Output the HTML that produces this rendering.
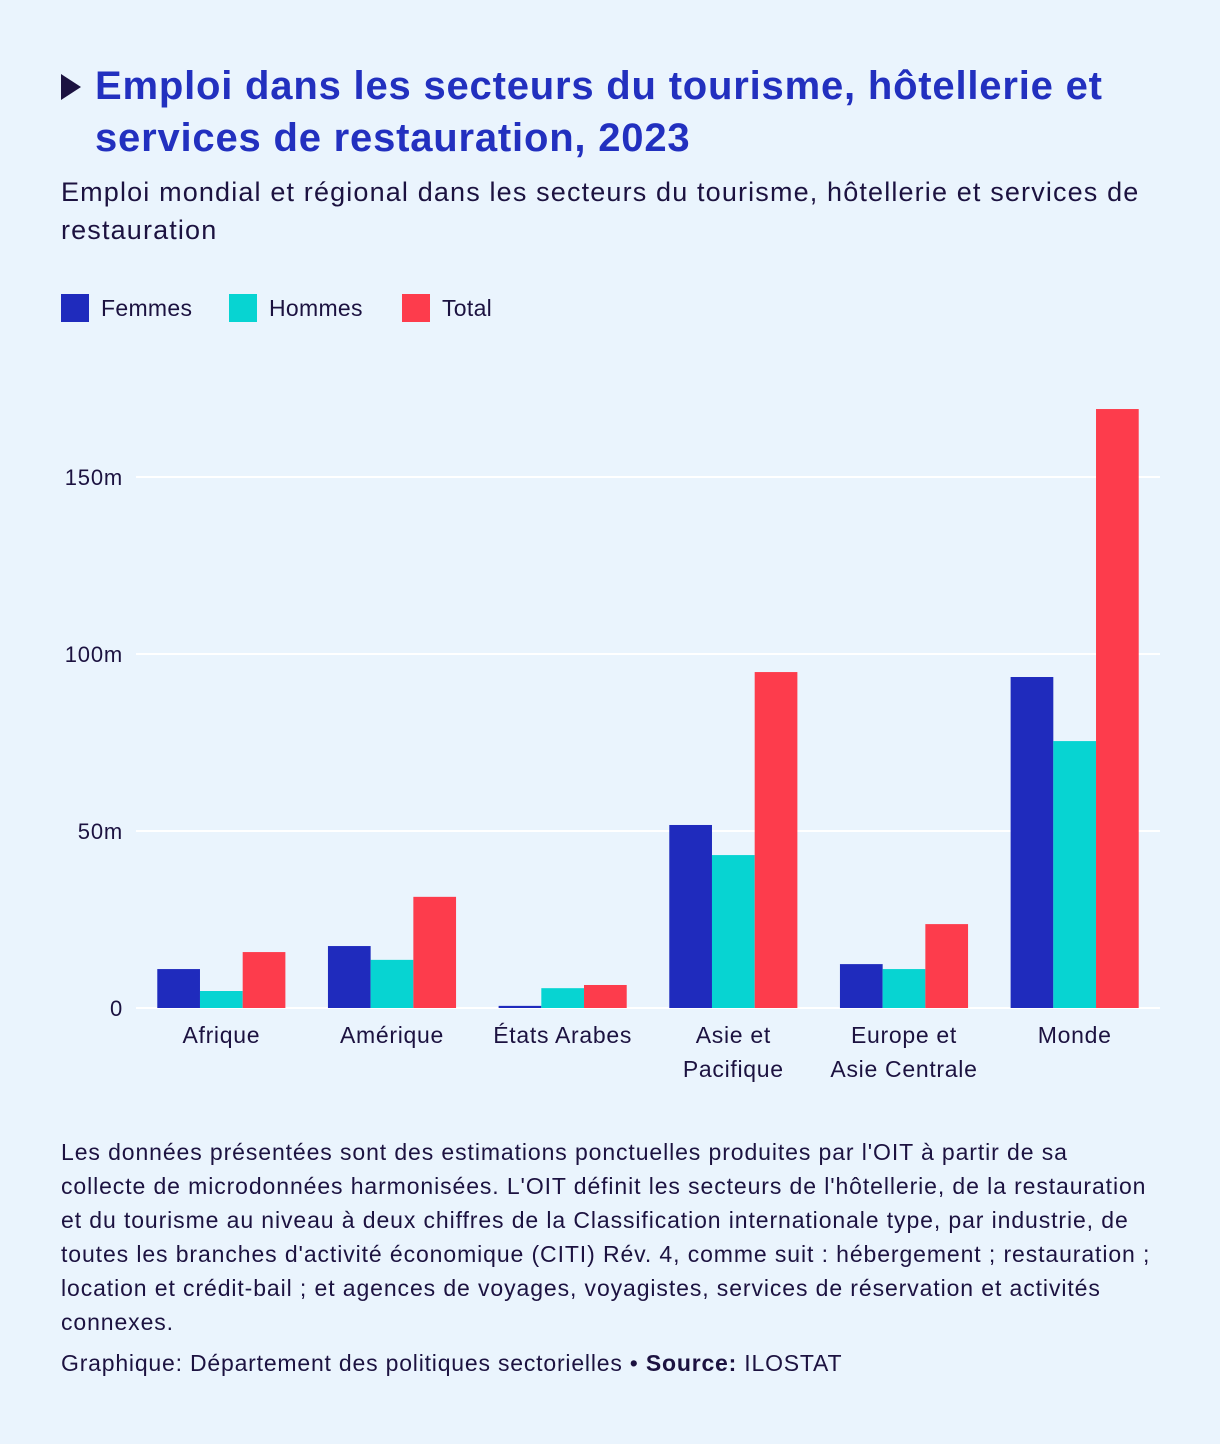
<!DOCTYPE html>
<html><head><meta charset="utf-8"><style>
body{margin:0;background:#eaf4fd;font-family:"Liberation Sans",sans-serif;color:#1c1240;}
.wrap{position:relative;width:1220px;height:1444px;}
.title{position:absolute;left:95px;top:60px;font-size:40px;letter-spacing:0.8px;font-weight:bold;color:#2230bf;line-height:52px;width:1110px;white-space:nowrap;}
.tri{position:absolute;left:61px;top:74px;width:0;height:0;border-left:20px solid #1c1240;border-top:13px solid transparent;border-bottom:13px solid transparent;}
.sub{position:absolute;left:61px;top:173px;font-size:27px;letter-spacing:1.15px;line-height:38px;width:1120px;white-space:nowrap;}
.leg{position:absolute;top:294px;font-size:23px;letter-spacing:0.3px;display:flex;align-items:center;}
.sw{width:28px;height:28px;margin-right:12px;}
.note{position:absolute;left:61px;top:1135px;font-size:23px;letter-spacing:0.9px;line-height:34px;width:1130px;white-space:nowrap;}
.cred{position:absolute;left:61px;top:1350px;font-size:23px;letter-spacing:0.8px;white-space:nowrap;}
</style></head><body><div class="wrap">
<div class="tri"></div>
<div class="title">Emploi dans les secteurs du tourisme, hôtellerie et<br>services de restauration, 2023</div>
<div class="sub">Emploi mondial et régional dans les secteurs du tourisme, hôtellerie et services de<br>restauration</div>
<div class="leg" style="left:61px"><div class="sw" style="background:#1f2bbd"></div>Femmes</div>
<div class="leg" style="left:229px"><div class="sw" style="background:#07d4d2"></div>Hommes</div>
<div class="leg" style="left:402px"><div class="sw" style="background:#fd3c4c"></div>Total</div>
<svg id="chart" width="1220" height="1444" style="position:absolute;left:0;top:0"></svg>
<div class="note">Les données présentées sont des estimations ponctuelles produites par l'OIT à partir de sa<br>collecte de microdonnées harmonisées. L'OIT définit les secteurs de l'hôtellerie, de la restauration<br>et du tourisme au niveau à deux chiffres de la Classification internationale type, par industrie, de<br>toutes les branches d'activité économique (CITI) Rév. 4, comme suit : hébergement ; restauration ;<br>location et crédit-bail ; et agences de voyages, voyagistes, services de réservation et activités<br>connexes.</div>
<div class="cred">Graphique: Département des politiques sectorielles • <b>Source:</b> ILOSTAT</div>
</div>
<script>
const categories=[["Afrique"],["Amérique"],["États Arabes"],["Asie et","Pacifique"],["Europe et","Asie Centrale"],["Monde"]];
const femmes=[11.0,17.5,0.6,51.7,12.4,93.5];
const hommes=[4.8,13.6,5.6,43.2,11.0,75.4];
const total=[15.8,31.4,6.5,94.9,23.7,169.2];
const ticks=[0,50,100,150];
const tickLabels=["0","50m","100m","150m"];
const NS="http://www.w3.org/2000/svg";
const svg=document.getElementById('chart');
const x0=136,x1=1160,y0=1008,pxPer=3.54;
const y=v=>y0-v*pxPer;
const band=(x1-x0)/categories.length;
function mk(t,a){const e=document.createElementNS(NS,t);for(const k in a)e.setAttribute(k,a[k]);svg.appendChild(e);return e;}
ticks.forEach((t,i)=>{
 const g=mk('line',{x1:x0,x2:x1,y1:y(t),y2:y(t),stroke:'#ffffff','stroke-width':2});
 
 
 const l=mk('text',{x:123,y:y(t)+8,'text-anchor':'end','font-size':22,'letter-spacing':0.8,fill:'#1c1240','font-family':'Liberation Sans, sans-serif'});
 l.textContent=tickLabels[i];
 
 
});
const series=[[femmes,'#1f2bbd','femmes'],[hommes,'#07d4d2','hommes'],[total,'#fd3c4c','total']];
const bw=42.7;
categories.forEach((c,i)=>{
 const cx=x0+band*(i+0.5);
 series.forEach((s,j)=>{
  const v=s[0][i];
  const r=mk('rect',{x:cx-1.5*bw+j*bw,y:y(v),width:bw,height:v*pxPer,fill:s[1]});
  
  
 });
 c.forEach((line,k)=>{
  const t=mk('text',{x:cx,y:1043+k*34,'text-anchor':'middle','font-size':23,'letter-spacing':0.7,fill:'#1c1240','font-family':'Liberation Sans, sans-serif'});
  t.textContent=line;
  
  
 });
});
</script></body></html>
